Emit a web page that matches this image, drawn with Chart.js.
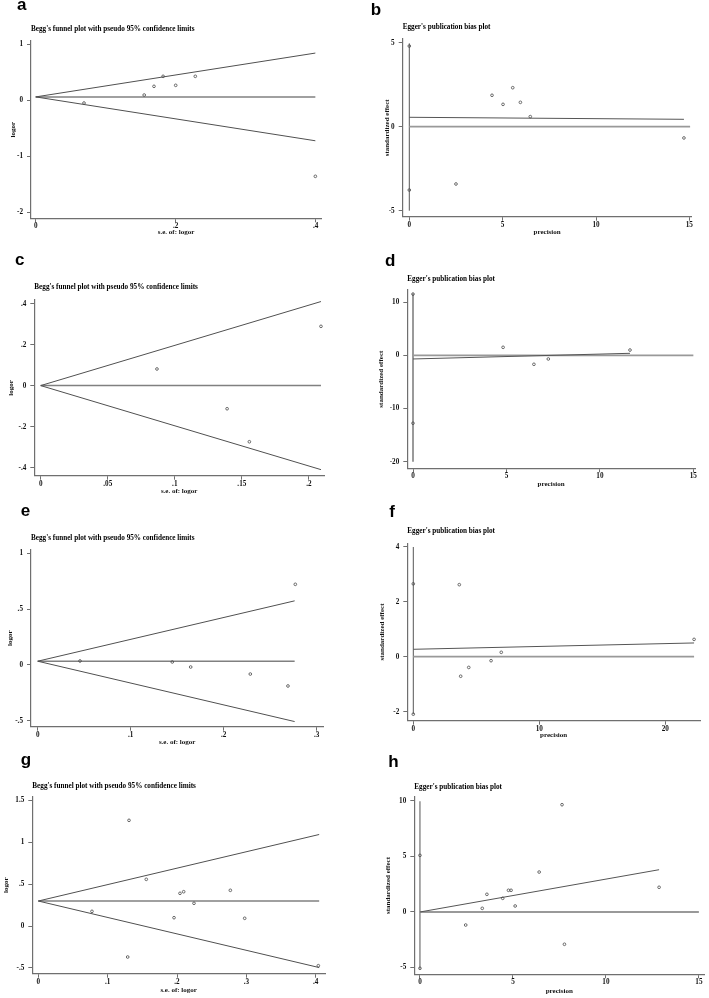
<!DOCTYPE html>
<html>
<head>
<meta charset="utf-8">
<script src="https://cdn.jsdelivr.net/npm/chart.js@4.4.1/dist/chart.umd.min.js"></script>
<style>
    body { margin: 0; background: #fff; width: 709px; height: 998px; position: relative; overflow: hidden; }
    canvas { position: absolute; }
    .tag { position: absolute; font: bold 17px "Liberation Sans", Arial, sans-serif; line-height: 17px; color: #000; }
</style>
</head>
<body>
<script>
// ── Data ──
// a: Begg
const aSe = [0.069, 0.155, 0.169, 0.182, 0.200, 0.228, 0.3995];
const aLogor = [-0.054, 0.089, 0.244, 0.423, 0.262, 0.423, -1.363];
const aLimitSe = [0, 0.3995];
const aUpper = [0.055, 0.838];
const aLower = [0.055, -0.728];
const aCenter = [0.055, 0.055];
const aXTicks = ['0', '.2', '.4'];
const aYTicks = ['-2', '-1', '0', '1'];

// b: Egger
const bPrec = [2.50, 4.43, 5.02, 5.54, 5.95, 6.48, 14.71];
const bEffect = [-3.41, 1.87, 1.33, 2.32, 1.45, 0.60, -0.67];
const bCi = [-5.0, 4.96];
const bCiMarks = [4.80, -3.77];
const bFitX = [0, 14.71];
const bFitY = [0.56, 0.44];
const bZeroX = [0, 15.04];
const bXTicks = ['0', '5', '10', '15'];
const bYTicks = ['-5', '0', '5'];

// c: Begg
const cSe = [0.0867, 0.139, 0.1556, 0.209];
const cLogor = [0.083, -0.111, -0.272, 0.291];
const cLimitSe = [0, 0.209];
const cUpper = [0.002, 0.412];
const cLower = [0.002, -0.408];
const cCenter = [0.002, 0.002];
const cXTicks = ['0', '.05', '.1', '.15', '.2'];
const cYTicks = ['-.4', '-.2', '0', '.2', '.4'];

// d: Egger
const dPrec = [4.82, 6.47, 7.24, 11.61];
const dEffect = [1.5, -1.69, -0.69, 0.99];
const dCi = [-20, 11.6];
const dCiMarks = [11.5, -12.76];
const dFitX = [0, 11.61];
const dFitY = [-0.69, 0.375];
const dZeroX = [0, 15];
const dXTicks = ['0', '5', '10', '15'];
const dYTicks = ['-20', '-10', '0', '10'];

// e: Begg
const eSe = [0.0455, 0.1447, 0.1645, 0.2286, 0.2691, 0.277];
const eLogor = [0.036, 0.027, -0.018, -0.081, -0.188, 0.723];
const eLimitSe = [0, 0.2763];
const eUpper = [0.034, 0.575];
const eLower = [0.034, -0.507];
const eCenter = [0.034, 0.034];
const eXTicks = ['0', '.1', '.2', '.3'];
const eYTicks = ['-.5', '0', '.5', '1'];

// f: Egger
const fPrec = [3.65, 3.76, 4.40, 6.17, 6.98, 22.28];
const fEffect = [2.62, -0.71, -0.39, -0.145, 0.16, 0.63];
const fCi = [-2.09, 3.99];
const fCiMarks = [2.65, -2.09];
const fFitX = [0, 22.28];
const fFitY = [0.27, 0.50];
const fZeroX = [0, 22.28];
const fXTicks = ['0', '10', '20'];
const fYTicks = ['-2', '0', '2', '4'];

// g: Begg
const gSe = [0.0774, 0.1308, 0.1289, 0.1557, 0.1957, 0.2043, 0.2096, 0.2245, 0.2769, 0.2976, 0.4038];
const gLogor = [0.175, 1.261, -0.370, 0.557, 0.099, 0.390, 0.409, 0.271, 0.426, 0.092, -0.474];
const gLimitSe = [0, 0.405];
const gUpper = [0.298, 1.092];
const gLower = [0.298, -0.496];
const gCenter = [0.298, 0.298];
const gXTicks = ['0', '.1', '.2', '.3', '.4'];
const gYTicks = ['-.5', '0', '.5', '1', '1.5'];

// h: Egger
const hPrec = [2.46, 3.35, 3.60, 4.45, 4.76, 4.90, 5.12, 6.41, 7.64, 7.77, 12.86];
const hEffect = [-1.17, 0.33, 1.59, 1.23, 1.95, 1.95, 0.54, 3.59, 9.64, -2.90, 2.22];
const hCi = [-5.1, 9.95];
const hCiMarks = [5.09, -5.06];
const hFitX = [0, 12.86];
const hFitY = [0.0, 3.80];
const hZeroX = [0, 15];
const hXTicks = ['0', '5', '10', '15'];
const hYTicks = ['-5', '0', '5', '10'];

const BEGG_TITLE = "Begg's funnel plot with pseudo 95% confidence limits";
const EGGER_TITLE = "Egger's publication bias plot";

// ── Helpers ──
const SERIF = '"Liberation Serif", "Times New Roman", serif';
const AXIS = '#6f6f6f';
const TITLE_LH = 7.2;

function pts(xs, ys) {
    return xs.map((x, i) => ({ x: x, y: ys[i] }));
}
function lineSet(xs, ys, color, width) {
    return { data: pts(xs, ys), showLine: true, pointRadius: 0, borderColor: color, borderWidth: width, fill: false };
}
function markSet(xs, ys) {
    return {
        data: pts(xs, ys), showLine: false,
        pointRadius: 1.35, pointBorderWidth: 0.8,
        borderColor: '#4a4a4a', backgroundColor: 'rgba(255,255,255,0)'
    };
}

function axis(tickLabels, min, max, title, size, isX) {
    const vals = tickLabels.map(parseFloat);
    return {
        type: 'linear', min: min, max: max,
        afterBuildTicks: s => { s.ticks = vals.map(v => ({ value: v })); },
        afterFit: s => { if (isX) s.height = size; else s.width = size; },
        ticks: {
            autoSkip: false, maxRotation: 0, padding: isX ? 0 : 4,
            font: { family: SERIF, size: 7.2, weight: 'bold' }, color: '#111',
            callback: (v, i) => tickLabels[i]
        },
        grid: { drawOnChartArea: false, drawTicks: true, tickLength: 4, color: AXIS, lineWidth: 1 },
        border: { display: true, color: AXIS, width: 1.2 },
        title: { display: true, text: title, font: { family: SERIF, size: 7, weight: 'bold', lineHeight: 1 }, color: '#111', padding: 0 }
    };
}

function panel(p) {
    const [cl, ct, cw, ch] = p.canvas;
    const [L, T, R, B] = p.area;
    const cv = document.createElement('canvas');
    cv.width = cw; cv.height = ch;
    cv.style.left = cl + 'px'; cv.style.top = ct + 'px';
    cv.style.width = cw + 'px'; cv.style.height = ch + 'px';
    document.body.appendChild(cv);

    new Chart(cv, {
        type: 'scatter',
        data: { datasets: p.datasets },
        options: {
            responsive: false, animation: false, devicePixelRatio: 1, events: [],
            layout: {
                padding: {
                    left: L - cl - p.yw,
                    right: cl + cw - R,
                    top: p.titleY - ct - TITLE_LH / 2,
                    bottom: ct + ch - B - p.xh
                }
            },
            plugins: {
                legend: { display: false },
                tooltip: { enabled: false },
                title: {
                    display: true, text: p.title, align: 'start', fullSize: false, color: '#000',
                    font: { family: SERIF, size: 7.2, weight: 'bold', lineHeight: 1 },
                    padding: { top: 0, bottom: T - p.titleY - TITLE_LH / 2 }
                }
            },
            scales: {
                x: axis(p.xTicks, p.xRange[0], p.xRange[1], p.xTitle, p.xh, true),
                y: axis(p.yTicks, p.yRange[0], p.yRange[1], p.yTitle, p.yw, false)
            }
        }
    });
}

function beggSets(se, lo, limSe, up, low, mid) {
    return [
        markSet(se, lo),
        lineSet(limSe, up, '#505050', 1),
        lineSet(limSe, low, '#505050', 1),
        lineSet(limSe, mid, '#808080', 1.5)
    ];
}
function eggerSets(prec, eff, ci, ciMarks, fitX, fitY, zeroX, ciColor, ciWidth) {
    return [
        markSet(prec, eff),
        markSet(ciMarks.map(() => 0), ciMarks),
        lineSet(fitX, fitY, '#555', 1),
        lineSet(zeroX, zeroX.map(() => 0), '#999', 1.8),
        lineSet([0, 0], ci, ciColor, ciWidth)
    ];
}

// ── Build panels ──
panel({
    canvas: [0, 0, 345, 250], area: [31, 41, 321, 218.3], yw: 21.25, xh: 17.75, titleY: 29.3,
    title: BEGG_TITLE, xTitle: 's.e. of: logor', yTitle: 'logor',
    xTicks: aXTicks, yTicks: aYTicks, xRange: [-0.00671, 0.40757], yRange: [-2.1125, 1.0536],
    datasets: beggSets(aSe, aLogor, aLimitSe, aUpper, aLower, aCenter)
});
panel({
    canvas: [350, 0, 359, 250], area: [402.7, 39, 691.5, 216.7], yw: 18.95, xh: 19.35, titleY: 27.3,
    title: EGGER_TITLE, xTitle: 'precision', yTitle: 'standardized effect',
    xTicks: bXTicks, yTicks: bYTicks, xRange: [-0.3535, 15.115], yRange: [-5.357, 5.22],
    datasets: eggerSets(bPrec, bEffect, bCi, bCiMarks, bFitX, bFitY, bZeroX, '#555', 1)
});
panel({
    canvas: [0, 250, 345, 250], area: [34.3, 300, 324, 475.7], yw: 26.35, xh: 19.05, titleY: 286.7,
    title: BEGG_TITLE, xTitle: 's.e. of: logor', yTitle: 'logor',
    xTicks: cXTicks, yTicks: cYTicks, xRange: [-0.00477, 0.21126], yRange: [-0.4376, 0.4195],
    datasets: beggSets(cSe, cLogor, cLimitSe, cUpper, cLower, cCenter)
});
panel({
    canvas: [350, 250, 359, 250], area: [407.3, 290, 695, 468.3], yw: 29.35, xh: 19.45, titleY: 279.3,
    title: EGGER_TITLE, xTitle: 'precision', yTitle: 'standardized effect',
    xTicks: dXTicks, yTicks: dYTicks, xRange: [-0.305, 15.088], yRange: [-21.23, 12.27],
    datasets: eggerSets(dPrec, dEffect, dCi, dCiMarks, dFitX, dFitY, dZeroX, '#9a9a9a', 2)
});
panel({
    canvas: [0, 500, 345, 250], area: [31, 549.5, 323.3, 726.7], yw: 24.75, xh: 19.05, titleY: 537.7,
    title: BEGG_TITLE, xTitle: 's.e. of: logor', yTitle: 'logor',
    xTicks: eXTicks, yTicks: eYTicks, xRange: [-0.0072, 0.3071], yRange: [-0.5529, 1.035],
    datasets: beggSets(eSe, eLogor, eLimitSe, eUpper, eLower, eCenter)
});
panel({
    canvas: [350, 500, 359, 250], area: [407.3, 543.3, 700, 720.7], yw: 28.75, xh: 18.05, titleY: 531,
    title: EGGER_TITLE, xTitle: 'precision', yTitle: 'standardized effect',
    xTicks: fXTicks, yTicks: fYTicks, xRange: [-0.476, 22.75], yRange: [-2.327, 4.124],
    datasets: eggerSets(fPrec, fEffect, fCi, fCiMarks, fFitX, fFitY, fZeroX, '#555', 1)
});
panel({
    canvas: [0, 750, 345, 248], area: [32.3, 796.7, 325, 973.7], yw: 29.35, xh: 20.05, titleY: 785.7,
    title: BEGG_TITLE, xTitle: 's.e. of: logor', yTitle: 'logor',
    xTicks: gXTicks, yTicks: gYTicks, xRange: [-0.00865, 0.4134], yRange: [-0.5692, 1.543],
    datasets: beggSets(gSe, gLogor, gLimitSe, gUpper, gLower, gCenter)
});
panel({
    canvas: [350, 750, 359, 248], area: [414.3, 796.7, 706, 974.3], yw: 29.75, xh: 20.15, titleY: 787.3,
    title: EGGER_TITLE, xTitle: 'precision', yTitle: 'standardized effect',
    xTicks: hXTicks, yTicks: hYTicks, xRange: [-0.3046, 15.286], yRange: [-5.598, 10.36],
    datasets: eggerSets(hPrec, hEffect, hCi, hCiMarks, hFitX, hFitY, hZeroX, '#555', 1)
});

// panel letters
[['a', 17, -4.4], ['b', 370.7, 0.6], ['c', 15, 251.3], ['d', 385, 251.6],
 ['e', 20.7, 502.3], ['f', 389.3, 503.3], ['g', 20.7, 751.3], ['h', 388.3, 752.9]].forEach(([t, x, y]) => {
    const el = document.createElement('div');
    el.className = 'tag';
    el.textContent = t;
    el.style.left = x + 'px';
    el.style.top = y + 'px';
    document.body.appendChild(el);
});
</script>
</body>
</html>
